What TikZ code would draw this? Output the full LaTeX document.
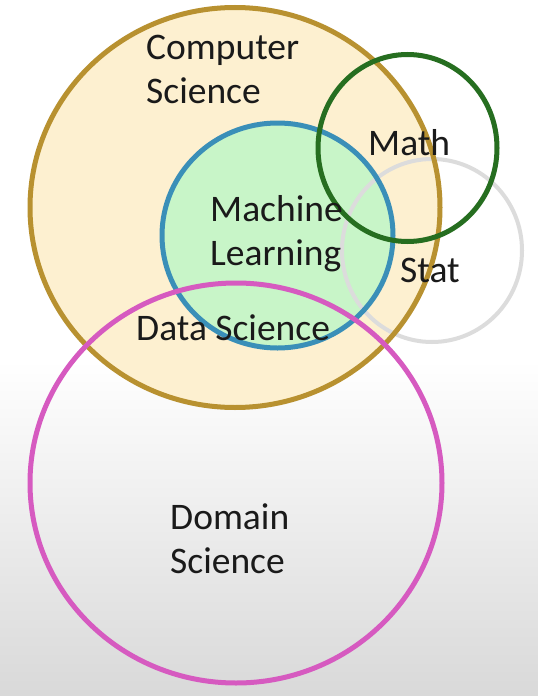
\documentclass[tikz,border=0pt]{standalone}
\usepackage{fontspec}
\setmainfont{Carlito}
\begin{document}
\definecolor{csline}{RGB}{184,145,48}
\definecolor{csfill}{RGB}{253,240,208}
\definecolor{mlline}{RGB}{58,143,184}
\definecolor{mlfill}{RGB}{200,245,200}
\definecolor{mathline}{RGB}{38,110,32}
\definecolor{domline}{RGB}{214,90,192}
\definecolor{statline}{RGB}{220,220,220}
\definecolor{ink}{RGB}{26,26,26}
\begin{tikzpicture}[x=1pt,y=-1pt,
  ring/.style={line width=5pt},
  lbl/.style={anchor=base west,inner sep=0pt,align=left,text=ink,
    font=\fontsize{37.5}{44}\selectfont}]
% background: white top, fading to light grey at the bottom
\useasboundingbox (0,0) rectangle (538,696);
\fill[white] (0,0) rectangle (538,361);
\shade[top color=white,bottom color=black!15] (0,360) rectangle (538,696);
% filled areas
\fill[csfill] (235,207.5) ellipse [x radius=205,y radius=200];
\fill[mlfill] (277.5,235.5) ellipse [x radius=115.5,y radius=112.5];
% outlines
\draw[statline,line width=4pt] (432,250.5) ellipse [x radius=90,y radius=91.5];
\draw[ring,csline] (235,207.5) ellipse [x radius=205,y radius=200];
\draw[ring,mlline] (277.5,235.5) ellipse [x radius=115.5,y radius=112.5];
\draw[ring,domline] (236,483) ellipse [x radius=206,y radius=200];
\draw[ring,mathline] (407.5,148) ellipse [x radius=89.5,y radius=93.5];
% labels (multi-line labels are placed by the baseline of their last line)
\node[lbl] (cs) at (146,103) {Computer\\Science};
\node[lbl] (math) at (368,155) {Math};
\node[lbl] (ml) at (210,265) {Machine\\Learning};
\node[lbl] (stat) at (400,282) {Stat};
\node[lbl] (ds) at (136,340) {Data Science};
\node[lbl] (dom) at (170,573) {Domain\\Science};
\end{tikzpicture}
\end{document}
